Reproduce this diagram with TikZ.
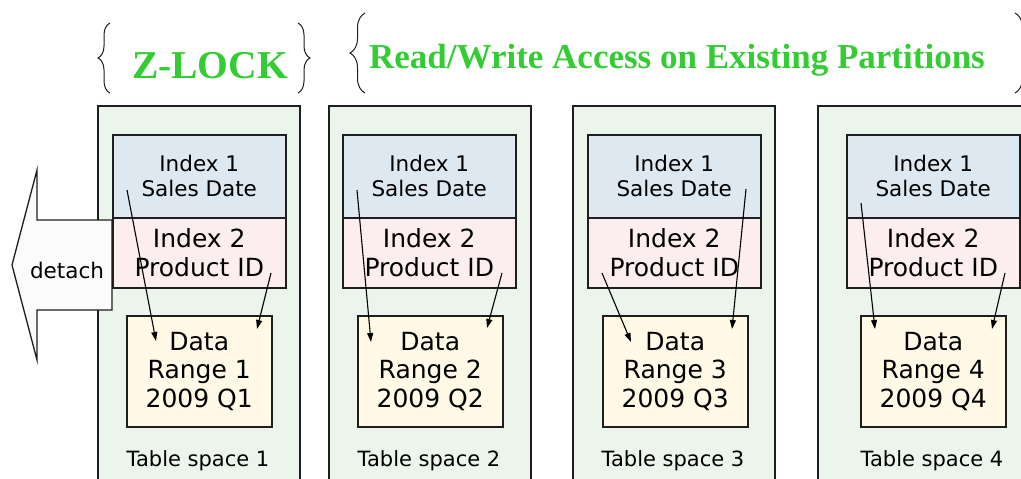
\documentclass[tikz,border=0pt]{standalone}
\usepackage{fontspec}
\setmainfont{DejaVu Sans}
\newfontfamily\titlefont{Liberation Serif}
\usetikzlibrary{arrows.meta,decorations.pathreplacing}

\definecolor{tsfill}{RGB}{236,245,236}
\definecolor{ixonefill}{RGB}{222,232,240}
\definecolor{ixtwofill}{RGB}{252,238,238}
\definecolor{datafill}{RGB}{255,249,230}
\definecolor{arrowfill}{RGB}{251,251,251}
\definecolor{titlegreen}{RGB}{51,204,51}
\definecolor{edge}{RGB}{30,30,30}

\tikzset{
  tsbox/.style={draw=edge, line width=1.5pt, fill=tsfill, anchor=north west,
    minimum width=202pt, minimum height=400pt, inner sep=0pt},
  ixone/.style={draw=edge, line width=1.5pt, fill=ixonefill, anchor=north west,
    minimum width=173pt, minimum height=83pt, inner sep=0pt, align=center,
    font=\fontsize{21.5}{25}\selectfont},
  ixtwo/.style={draw=edge, line width=1.5pt, fill=ixtwofill, anchor=north west,
    minimum width=173pt, minimum height=70pt, inner sep=0pt, align=center,
    font=\fontsize{25}{29}\selectfont},
  databox/.style={draw=edge, line width=1.5pt, fill=datafill, anchor=north west,
    minimum width=145pt, minimum height=111pt, inner sep=0pt, align=center,
    font=\fontsize{25}{28.5}\selectfont},
  tslabel/.style={inner sep=0pt, font=\fontsize{21}{25}\selectfont},
  link/.style={draw=black, line width=1.1pt, -{Triangle[length=9pt,width=6pt]}},
  titletext/.style={inner sep=0pt, anchor=base, text=titlegreen,
    font=\titlefont\bfseries},
  bracepath/.style={draw=edge, line width=1pt, decorate},
}

\begin{document}
\begin{tikzpicture}[x=1pt,y=-1pt]
\useasboundingbox (0,0) rectangle (1021,479);
\clip (0,0) rectangle (1021,479);

% headings with their braces
\node[titletext, font=\titlefont\bfseries\fontsize{39.5}{42}\selectfont] (zlock) at (210,78) {Z-LOCK};
\node[titletext, font=\titlefont\bfseries\fontsize{35}{38}\selectfont] (rwacc) at (677,68) {Read/Write Access on Existing Partitions};
\draw[bracepath, decoration={brace, amplitude=12pt}] (110,93) -- (110,23);
\draw[bracepath, decoration={brace, amplitude=12pt}] (298,23) -- (298,93);
\draw[bracepath, decoration={brace, amplitude=15pt}] (365,93) -- (365,13);
\draw[bracepath, decoration={brace, amplitude=15pt}] (1015,13) -- (1015,93);

% table spaces
\node[tsbox] (ts1) at (97,105) {};
\node[tsbox] (ts2) at (328,105) {};
\node[tsbox] (ts3) at (572,105) {};
\node[tsbox, minimum width=230pt] (ts4) at (817,105) {};

% detach arrow leaving table space 1
\draw[draw=edge, line width=1.3pt, fill=arrowfill]
  (112,220) -- (37,220) -- (37,170) -- (12,265) -- (37,360) -- (37,310) -- (112,310) -- cycle;
\node[inner sep=0pt, font=\fontsize{21.5}{25}\selectfont] (detach) at (67,270) {detach};

% partition contents
\node[ixone] (ia1) at (112,134) {Index 1\\Sales Date};
\node[ixtwo] (ib1) at (112,217) {Index 2\\Product ID};
\node[databox] (d1) at (126,315) {Data\\Range 1\\2009 Q1};
\node[tslabel] (l1) at (198,461) {Table space 1};

\node[ixone] (ia2) at (342,134) {Index 1\\Sales Date};
\node[ixtwo] (ib2) at (342,217) {Index 2\\Product ID};
\node[databox] (d2) at (357,315) {Data\\Range 2\\2009 Q2};
\node[tslabel] (l2) at (429,461) {Table space 2};

\node[ixone] (ia3) at (587,134) {Index 1\\Sales Date};
\node[ixtwo] (ib3) at (587,217) {Index 2\\Product ID};
\node[databox] (d3) at (602,315) {Data\\Range 3\\2009 Q3};
\node[tslabel] (l3) at (673,461) {Table space 3};

\node[ixone] (ia4) at (846,134) {Index 1\\Sales Date};
\node[ixtwo] (ib4) at (846,217) {Index 2\\Product ID};
\node[databox] (d4) at (860,315) {Data\\Range 4\\2009 Q4};
\node[tslabel] (l4) at (932,461) {Table space 4};

% index pointers into the data ranges
\coordinate (s1a) at (127,190); \coordinate (e1a) at (156,341);
\coordinate (s1b) at (271,273); \coordinate (e1b) at (257,329);
\coordinate (s2a) at (357,190); \coordinate (e2a) at (371,342);
\coordinate (s2b) at (502,273); \coordinate (e2b) at (487,328);
\coordinate (s3a) at (746,189); \coordinate (e3a) at (732,329);
\coordinate (s3b) at (602,273); \coordinate (e3b) at (631,342);
\coordinate (s4a) at (861,203); \coordinate (e4a) at (875,329);
\coordinate (s4b) at (1005,273); \coordinate (e4b) at (992,329);

\draw[link] (s1a) -- (e1a);
\draw[link] (s1b) -- (e1b);
\draw[link] (s2a) -- (e2a);
\draw[link] (s2b) -- (e2b);
\draw[link] (s3a) -- (e3a);
\draw[link] (s3b) -- (e3b);
\draw[link] (s4a) -- (e4a);
\draw[link] (s4b) -- (e4b);
\end{tikzpicture}
\end{document}
